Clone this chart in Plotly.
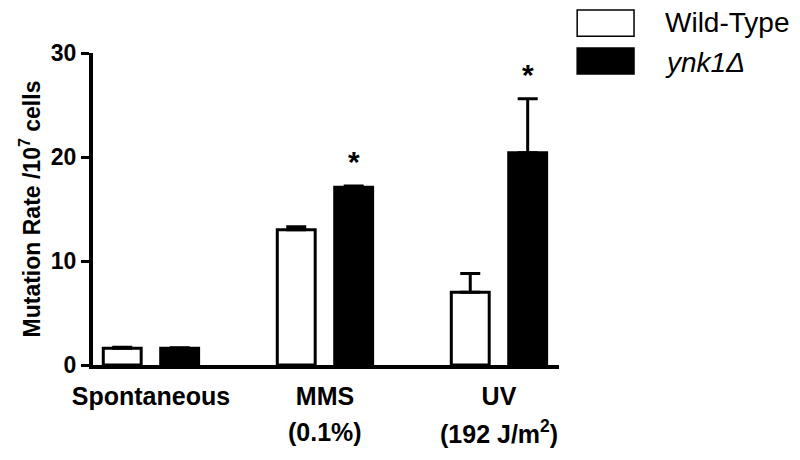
import plotly.graph_objects as go

categories = ["Spontaneous", "MMS", "UV"]
subtitles = ["", "(0.1%)", "(192 J/m<sup>2</sup>)"]
wild_type = [1.6, 13.0, 7.0]
wild_type_err = [0.1, 0.3, 1.8]
ynk1 = [1.6, 17.1, 20.4]
ynk1_err = [0.05, 0.1, 5.2]
significant = [False, True, True]

FONT = "Liberation Sans, Arial, sans-serif"
BARGAP = 0.34
x_pos = list(range(len(categories)))

fig = go.Figure()

fig.add_trace(go.Bar(
    x=x_pos, y=wild_type, name="Wild-Type",
    marker=dict(color="white", line=dict(color="black", width=3)),
    error_y=dict(type="data", array=wild_type_err, arrayminus=[0] * 3,
                 symmetric=False, color="black", thickness=3, width=10),
))
fig.add_trace(go.Bar(
    x=x_pos, y=ynk1, name="ynk1Δ",
    marker=dict(color="black", line=dict(color="black", width=3)),
    error_y=dict(type="data", array=ynk1_err, arrayminus=[0] * 3,
                 symmetric=False, color="black", thickness=3, width=10),
))

# asterisks above the mutant bars
slot = (1 - BARGAP) / 2
for i, sig in enumerate(significant):
    if sig:
        fig.add_annotation(
            x=i + slot / 2, y=ynk1[i] + ynk1_err[i], xref="x", yref="y",
            text="<b>*</b>", showarrow=False, yanchor="bottom", yshift=6,
            font=dict(family=FONT, size=30, color="black"),
        )

# second line of the category labels
for i, sub in enumerate(subtitles):
    if sub:
        fig.add_annotation(
            x=i, y=0, xref="x", yref="paper", text=f"<b>{sub}</b>",
            showarrow=False, yanchor="middle", yshift=-67,
            font=dict(family=FONT, size=25, color="black"),
        )

# hand drawn legend with large swatches
legend_items = [("Wild-Type", "white", 1.138, 1.054, 1.099, False),
                ("ynk1Δ", "black", 1.016, 0.933, 0.971, True)]
for label, fill, y1, y0, yc, italic in legend_items:
    fig.add_shape(type="rect", xref="paper", yref="paper",
                  x0=1.039, x1=1.161, y0=y0, y1=y1,
                  fillcolor=fill, line=dict(color="black", width=1.5))
    fig.add_annotation(
        x=1.223, y=yc, xref="paper", yref="paper",
        text=f"<i>{label}</i>" if italic else label,
        showarrow=False, xanchor="left", yanchor="middle",
        font=dict(family=FONT, size=28, color="black"),
    )

fig.update_xaxes(
    tickvals=x_pos, ticktext=[f"<b>{c}</b>" for c in categories],
    range=[-0.333, 2.345], showline=True, linecolor="black", linewidth=4,
    ticks="", showgrid=False, zeroline=False, ticklabelstandoff=6,
    tickfont=dict(family=FONT, size=25, color="black"), automargin=False,
)
fig.update_yaxes(
    range=[0, 30], tickvals=[0, 10, 20, 30],
    ticktext=["<b>0</b>", "<b>10</b>", "<b>20</b>", "<b>30</b>"],
    showline=True, linecolor="black", linewidth=4,
    ticks="outside", ticklen=8, tickwidth=3, tickcolor="black",
    showgrid=False, zeroline=False, automargin=False,
    tickfont=dict(family=FONT, size=23, color="black"),
    title=dict(text="<b>Mutation Rate /10<sup>7</sup> cells</b>",
               font=dict(family=FONT, size=23, color="black"), standoff=5),
)

# the page body offsets the figure by 8 px, margins compensate for it
fig.update_layout(
    width=800, height=460,
    margin=dict(l=85, r=249, t=45, b=103),
    barmode="group", bargap=BARGAP, bargroupgap=0.34,
    showlegend=False,
    plot_bgcolor="white", paper_bgcolor="white",
    font=dict(family=FONT, color="black"),
)

fig.write_html("out.html")
